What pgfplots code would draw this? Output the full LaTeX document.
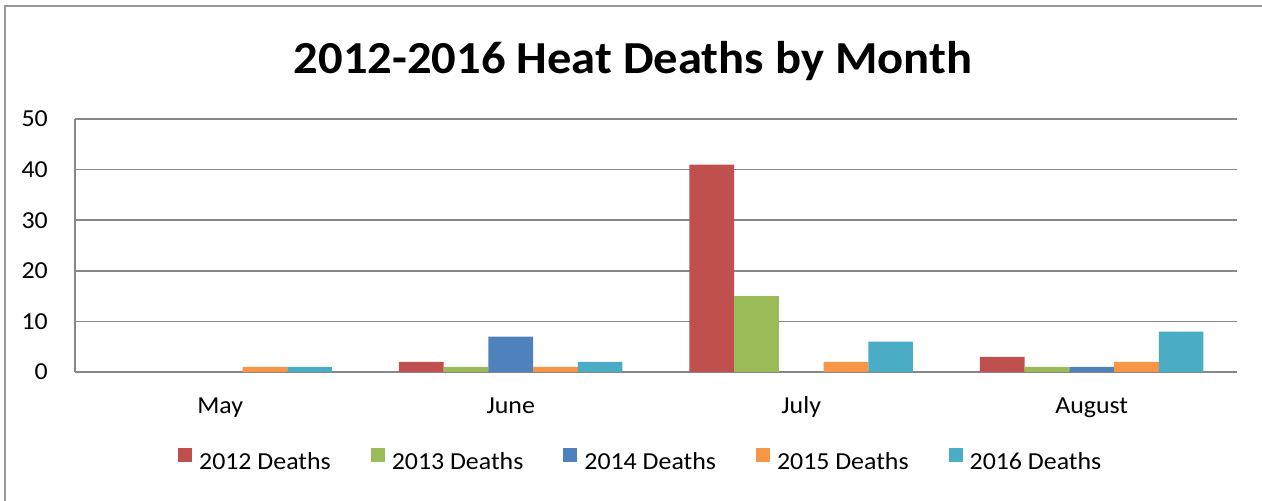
\documentclass[border=0pt]{standalone}
\usepackage{fontspec}
\setmainfont{Carlito}[FakeStretch=1.06]
\usepackage{pgfplots}
\pgfplotsset{compat=1.18}
\definecolor{cA}{HTML}{C0504D}
\definecolor{cB}{HTML}{9BBB59}
\definecolor{cC}{HTML}{4F81BD}
\definecolor{cD}{HTML}{F79646}
\definecolor{cE}{HTML}{4BACC6}
\definecolor{gridgray}{HTML}{878787}
\begin{document}
\begin{tikzpicture}
\useasboundingbox (0,0) rectangle (1262bp,501bp);
\fill[white] (0,0) rectangle (1262bp,501bp);
\draw[color=gridgray!85, line width=2bp] (5bp,0) -- (5bp,494.5bp) -- (1262bp,494.5bp);
\node[anchor=base, font=\bfseries\fontsize{46}{50}\selectfont] at (633bp,427bp) {2012-2016 Heat Deaths by Month};
\begin{axis}[
  at={(75bp,129bp)}, anchor=south west,
  width=1162bp, height=253bp, scale only axis,
  xmin=-0.5, xmax=3.5, ymin=0, ymax=50,
  xtick={0,1,2,3}, xticklabels={May,June,July,August},
  ytick={0,10,20,30,40,50},
  major tick length=0pt,
  axis x line*=bottom, axis y line*=left,
  axis line style={draw=gridgray, line width=1.6bp, -},
  ymajorgrids, grid style={draw=gridgray, line width=1.6bp},
  /pgf/number format/assume math mode=true,
  tick label style={font=\fontsize{24.5}{28}\selectfont, inner sep=0pt},
  yticklabel style={anchor=east, xshift=-27bp},
  xticklabel style={anchor=base, yshift=-41bp},
  ybar=0pt, bar width=44.7bp,
  legend columns=5,
  legend style={at={(0.0886,-0.3913)}, anchor=south west, draw=none, fill=none,
    inner sep=0pt, nodes={inner sep=0pt},
    font=\fontsize{24.5}{28}\selectfont,
    /tikz/every odd column/.append style={column sep=7bp},
    /tikz/every even column/.append style={column sep=40bp}},
  legend image code/.code={\fill[#1] (0bp,0bp) rectangle (14bp,14bp);},
]
\addplot[fill=cA, draw=none] coordinates {(0,0) (1,2) (2,41) (3,3)};
\addplot[fill=cB, draw=none] coordinates {(0,0) (1,1) (2,15) (3,1)};
\addplot[fill=cC, draw=none] coordinates {(0,0) (1,7) (2,0) (3,1)};
\addplot[fill=cD, draw=none] coordinates {(0,1) (1,1) (2,2) (3,2)};
\addplot[fill=cE, draw=none] coordinates {(0,1) (1,2) (2,6) (3,8)};
\legend{2012 Deaths,2013 Deaths,2014 Deaths,2015 Deaths,2016 Deaths}
\end{axis}
\end{tikzpicture}
\end{document}
